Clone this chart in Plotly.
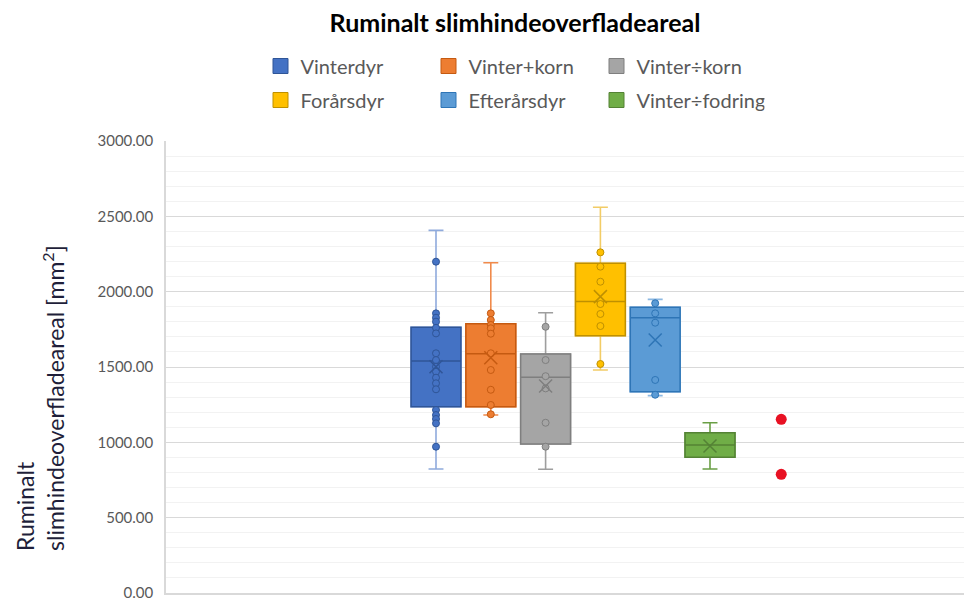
"""Box plot of ruminal mucosa surface area per feeding group."""

import plotly.graph_objects as go


FONT = "Lato, 'Open Sans', sans-serif"

# series names and colours (Excel office palette)
names = ["Vinterdyr", "Vinter+korn", "Vinter÷korn", "Forårsdyr", "Efterårsdyr", "Vinter÷fodring"]
colors = ["#4472C4", "#ED7D31", "#A5A5A5", "#FFC000", "#5B9BD5", "#70AD47"]
dark_colors = ["#2F5597", "#C55A11", "#7F7F7F", "#BF9000", "#2E75B6", "#548235"]
whisker_colors = ["#8FAADC", "#F08A4B", "#9E9E9E", "#F2CC66", "#8CB8E2", "#6A9F45"]

# slot of each box along the (hidden) x axis
positions = [1, 2, 3, 4, 5, 6]

# five-number summaries + mean
lower_whisker = [823, 1181, 821, 1480, 1310, 823]
q1 = [1237, 1237, 989, 1708, 1336, 901]
median = [1540, 1588, 1432, 1934, 1827, 982]
q3 = [1763, 1787, 1586, 2188, 1896, 1064]
upper_whisker = [2407, 2192, 1860, 2560, 1949, 1130]
mean = [1502, 1562, 1374, 1967, 1679, 976]

# individual points drawn on each box
points = [
    [2199, 1856, 1827, 1801, 1760, 1723, 1591, 1546, 1502, 1469, 1429, 1392, 1352,
     1215, 1181, 1155, 1126, 971],
    [1856, 1812, 1779, 1757, 1721, 1591, 1480, 1349, 1248, 1186],
    [1767, 1546, 1439, 1358, 1130, 971],
    [2261, 2166, 2066, 1918, 1852, 1772, 1520],
    [1923, 1856, 1794, 1414, 1316],
    [],
]

# the two loose red points to the right of the boxes
red_position = 7.3
red_points = [1153, 788]

y_ticks = [0, 500, 1000, 1500, 2000, 2500, 3000]

BOX_WIDTH = 0.91

# the page body adds an 8px offset, so layout pixels are given 8px earlier
W, H = 972, 601
PLOT_L, PLOT_T, PLOT_B = 158, 133, 585
PLOT_W, PLOT_H = W - PLOT_L, PLOT_B - PLOT_T

fig = go.Figure()

for i, name in enumerate(names):
    pos = positions[i]
    # whiskers (lighter line), box part is covered by the next trace
    fig.add_trace(
        go.Box(
            x=[pos],
            q1=[q1[i]],
            median=[median[i]],
            q3=[q3[i]],
            lowerfence=[lower_whisker[i]],
            upperfence=[upper_whisker[i]],
            width=BOX_WIDTH,
            whiskerwidth=0.3,
            line=dict(color=whisker_colors[i], width=1.6),
            fillcolor="rgba(0,0,0,0)",
            boxpoints=False,
            showlegend=False,
            hoverinfo="skip",
        )
    )
    # the box itself
    fig.add_trace(
        go.Box(
            x=[pos],
            q1=[q1[i]],
            median=[median[i]],
            q3=[q3[i]],
            lowerfence=[q1[i]],
            upperfence=[q3[i]],
            width=BOX_WIDTH,
            whiskerwidth=0,
            line=dict(color=dark_colors[i], width=1.5),
            fillcolor=colors[i],
            boxpoints=False,
            name=name,
            showlegend=False,
        )
    )
    if points[i]:
        fig.add_trace(
            go.Scatter(
                x=[pos] * len(points[i]),
                y=points[i],
                mode="markers",
                marker=dict(size=7, color=colors[i], line=dict(color=dark_colors[i], width=1)),
                showlegend=False,
                hoverinfo="y",
            )
        )
    # mean marker
    fig.add_trace(
        go.Scatter(
            x=[pos],
            y=[mean[i]],
            mode="markers",
            marker=dict(symbol="x-thin", size=13, color=dark_colors[i],
                        line=dict(color=dark_colors[i], width=1.5)),
            showlegend=False,
            hoverinfo="y",
        )
    )

fig.add_trace(
    go.Scatter(
        x=[red_position] * len(red_points),
        y=red_points,
        mode="markers",
        marker=dict(size=11, color="#E81123"),
        showlegend=False,
    )
)

# legend entries: square swatches, split over two rows
for i, name in enumerate(names):
    fig.add_trace(
        go.Scatter(
            x=[None],
            y=[None],
            mode="markers",
            marker=dict(symbol="square", size=15, color=colors[i],
                        line=dict(color=dark_colors[i], width=1)),
            name=name,
            legend="legend" if i < 3 else "legend2",
        )
    )

legend_style = dict(
    orientation="h",
    xref="container",
    yref="container",
    x=252.5 / W,
    xanchor="left",
    yanchor="middle",
    entrywidth=123,
    font=dict(family=FONT, size=20, color="#595959"),
    bgcolor="rgba(0,0,0,0)",
)

fig.update_layout(
    width=W,
    height=H,
    margin=dict(l=PLOT_L, r=0, t=PLOT_T, b=H - PLOT_B),
    paper_bgcolor="white",
    plot_bgcolor="white",
    boxmode="overlay",
    title=dict(
        text="<b>Ruminalt slimhindeoverfladeareal</b>",
        x=507 / W,
        xanchor="center",
        y=1 - 15 / H,
        yanchor="middle",
        font=dict(family=FONT, size=25, color="#000000"),
    ),
    legend=dict(legend_style, y=1 - 58 / H),
    legend2=dict(legend_style, y=1 - 92 / H),
    xaxis=dict(
        range=[-3.927, 10.927],
        showticklabels=False,
        showgrid=False,
        zeroline=False,
        showline=True,
        linecolor="#D9D9D9",
        linewidth=1.5,
        fixedrange=True,
    ),
    yaxis=dict(
        range=[0, 3000],
        tickvals=y_ticks,
        tickformat=".2f",
        tickfont=dict(family=FONT, size=15, color="#595959"),
        ticklabelstandoff=8,
        gridcolor="#D9D9D9",
        gridwidth=1,
        minor=dict(dtick=100, showgrid=True, gridcolor="#F2F2F2", gridwidth=1),
        zeroline=False,
        showline=True,
        linecolor="#D9D9D9",
        linewidth=1.5,
        fixedrange=True,
    ),
    annotations=[
        dict(
            text="Ruminalt<br>slimhindeoverfladeareal [mm<sup>2</sup>]",
            xref="paper",
            yref="paper",
            x=(32 - PLOT_L) / PLOT_W,
            y=(PLOT_B - 545) / PLOT_H,
            xanchor="center",
            yanchor="bottom",
            textangle=-90,
            align="left",
            showarrow=False,
            font=dict(family=FONT, size=23, color="#1F1F3A"),
        )
    ],
)

fig.write_html("out.html")
